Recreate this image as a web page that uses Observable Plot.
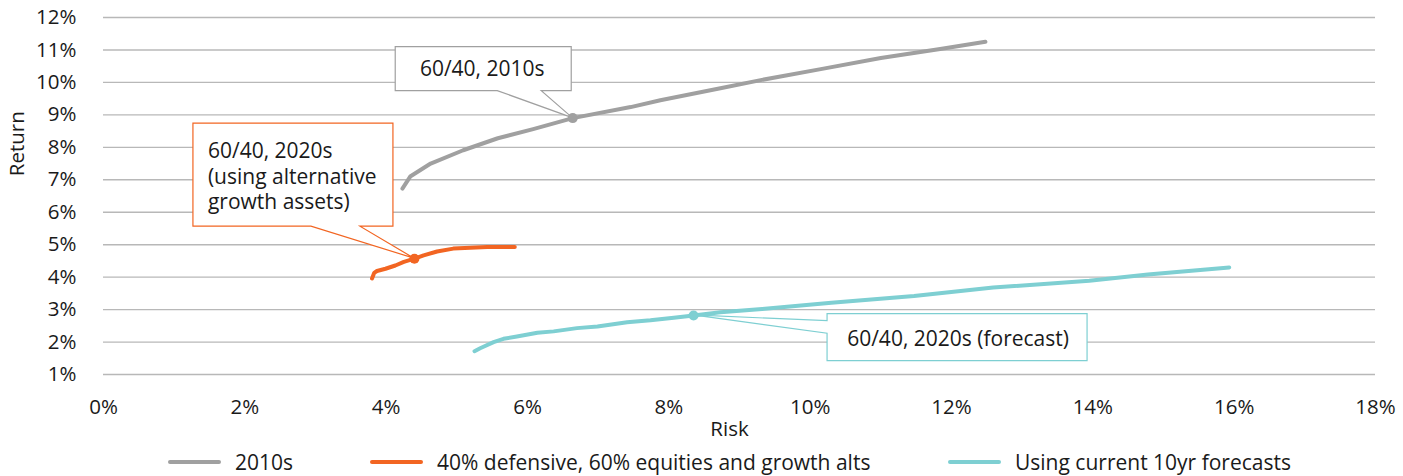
<!DOCTYPE html>
<html>
<head>
<meta charset="utf-8">
<script src="https://cdn.jsdelivr.net/npm/d3@7"></script>
<script src="https://cdn.jsdelivr.net/npm/@observablehq/plot@0.6"></script>
<style>
  html, body { margin: 0; padding: 0; background: #fff; }
  body { font-family: "Open Sans", "Noto Sans", sans-serif; width: 1403px; height: 476px; overflow: hidden; }
  #legend { position: relative; height: 28px; font-size: 21px; color: #1a1a1a; }
  .item { position: absolute; top: 0; height: 28px; display: flex; align-items: center; white-space: nowrap; }
  .sw { width: 53px; height: 4px; border-radius: 2px; margin-right: 14px; }
</style>
</head>
<body>
<div id="chart"></div>
<div id="legend"></div>
<script>
// ---- data (percent units) ----
const xTicks = [0, 2, 4, 6, 8, 10, 12, 14, 16, 18];
const yTicks = [1, 2, 3, 4, 5, 6, 7, 8, 9, 10, 11, 12];

const seriesNames = ["2010s", "40% defensive, 60% equities and growth alts", "Using current 10yr forecasts"];
const seriesColors = ["#a0a0a0", "#f26522", "#7ecfd2"];

const risk2010 = [4.23, 4.34, 4.63, 5.09, 5.58, 6.08, 6.64, 7.46, 7.88, 8.73, 9.30, 10.15, 11.00, 11.84, 12.48];
const ret2010  = [6.73, 7.10, 7.50, 7.91, 8.28, 8.56, 8.90, 9.24, 9.45, 9.82, 10.07, 10.41, 10.75, 11.03, 11.25];

const riskAlt = [3.80, 3.83, 3.87, 3.99, 4.13, 4.25, 4.40, 4.53, 4.72, 4.95, 5.19, 5.43, 5.82];
const retAlt  = [3.96, 4.13, 4.19, 4.26, 4.36, 4.47, 4.57, 4.67, 4.79, 4.88, 4.91, 4.93, 4.93];

const riskFc = [5.25, 5.33, 5.52, 5.66, 5.85, 6.14, 6.37, 6.70, 6.99, 7.41, 7.74, 8.07, 8.35, 8.73, 9.32, 10.30, 11.47, 12.59, 13.95, 14.78, 15.93];
const retFc  = [1.72, 1.81, 2.00, 2.10, 2.17, 2.29, 2.33, 2.43, 2.48, 2.61, 2.67, 2.75, 2.82, 2.92, 3.02, 3.21, 3.42, 3.68, 3.89, 4.08, 4.30];

const calloutLabels = [["60/40, 2010s"], ["60/40, 2020s", "(using alternative", "growth assets)"], ["60/40, 2020s (forecast)"]];
const calloutIndex = [6, 6, 12]; // index of the highlighted point in each series

// ---- build tables ----
const riskArrays = [risk2010, riskAlt, riskFc];
const retArrays = [ret2010, retAlt, retFc];
const lines = seriesNames.map((name, s) => riskArrays[s].map((r, i) => ({series: name, risk: r, ret: retArrays[s][i]})));
const anchors = seriesNames.map((name, s) => ({series: name, s, risk: riskArrays[s][calloutIndex[s]], ret: retArrays[s][calloutIndex[s]]}));

// callout layout (pixel offsets from the anchor point) - styling only
const calloutStyle = [
  {box: [-177, -1, -71, -27], wedge: "bottom", w: [-75, -31], text: {anchor: "middle", dx: -90, dy: [-49]}},
  {box: [-221, -21, -135, -32], wedge: "bottom", w: [-103, -54], text: {anchor: "start", dx: -206, dy: [-108, -82, -56.5]}},
  {box: [134, 394, -1.3, 45.7], wedge: "left", w: [5.7, 18.3], text: {anchor: "middle", dx: 265, dy: [23.5]}}
];

function callouts(index, scales) {
  const g = d3.create("svg:g");
  anchors.forEach((a, k) => {
    const ax = scales.x(a.risk), ay = scales.y(a.ret);
    const st = calloutStyle[k];
    const [l, r, t, b] = st.box.map((v, i) => (i < 2 ? ax + v : ay + v));
    let d;
    if (st.wedge === "bottom") {
      const w1 = ax + st.w[0], w2 = ax + st.w[1];
      d = `M${l},${t}H${r}V${b}H${w2}L${ax},${ay}L${w1},${b}H${l}Z`;
    } else {
      const w1 = ay + st.w[0], w2 = ay + st.w[1];
      d = `M${l},${t}H${r}V${b}H${l}V${w2}L${ax},${ay}L${l},${w1}Z`;
    }
    g.append("path").attr("d", d).attr("fill", "#fff")
      .attr("stroke", seriesColors[a.s]).attr("stroke-width", 1.2).attr("stroke-linejoin", "miter");
    calloutLabels[k].forEach((line, j) => {
      g.append("text").attr("x", ax + st.text.dx).attr("y", ay + st.text.dy[j])
        .attr("dy", "0.35em").attr("text-anchor", st.text.anchor)
        .attr("fill", "#1a1a1a").style("font-size", "21px").text(line);
    });
  });
  return g.node();
}

const colorScale = {domain: seriesNames, range: seriesColors};

const chart = Plot.plot({
  width: 1403,
  height: 448,
  marginLeft: 103,
  marginRight: 28,
  marginTop: 17,
  marginBottom: 41.5,
  style: {fontFamily: "'Open Sans', 'Noto Sans', sans-serif", fontSize: "20.5px", color: "#1a1a1a", background: "#fff"},
  x: {domain: [0, 18], axis: null},
  y: {domain: [0, 12], axis: null},
  color: colorScale,
  marks: [
    Plot.ruleY(yTicks, {stroke: "#b8b8b8", strokeWidth: 1.4}),
    Plot.text(yTicks, {y: d => d, frameAnchor: "left", textAnchor: "end", dx: -27, text: d => d + "%", fill: "#1a1a1a"}),
    Plot.text(xTicks, {x: d => d, frameAnchor: "bottom", lineAnchor: "middle", text: d => d + "%", fill: "#1a1a1a"}),
    Plot.text(["Return"], {frameAnchor: "left", rotate: -90, dx: -86, dy: -36, fill: "#1a1a1a"}),
    Plot.text(["Risk"], {frameAnchor: "bottom", dx: -10, dy: 28.5, fill: "#1a1a1a"}),
    callouts,
    ...lines.map(L => Plot.line(L, {x: "risk", y: "ret", stroke: "series", strokeWidth: 4, strokeLinecap: "round", strokeLinejoin: "round"})),
    Plot.dot(anchors, {x: "risk", y: "ret", fill: "series", r: 5})
  ]
});
document.getElementById("chart").appendChild(chart);

// legend
const legendPos = [168, 370, 948];
const legend = document.getElementById("legend");
seriesNames.forEach((name, s) => {
  const it = document.createElement("div");
  it.className = "item";
  it.style.left = legendPos[s] + "px";
  const sw = document.createElement("span");
  sw.className = "sw";
  sw.style.background = seriesColors[s];
  const tx = document.createElement("span");
  tx.textContent = name;
  it.appendChild(sw); it.appendChild(tx);
  legend.appendChild(it);
});
</script>
</body>
</html>
